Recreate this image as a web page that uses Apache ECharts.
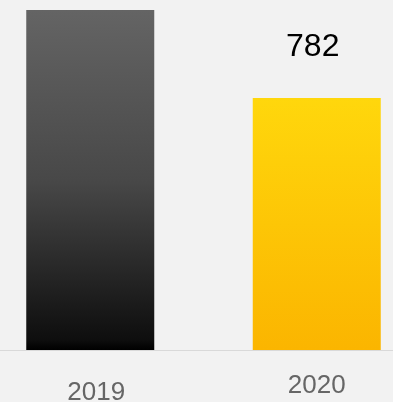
<!DOCTYPE html>
<html>
<head>
<meta charset="utf-8">
<style>
	html, body { margin: 0; padding: 0; background: #f2f2f2; }
	#chart { width: 393px; height: 402px; }
</style>
<script src="https://cdn.jsdelivr.net/npm/echarts@6/dist/echarts.min.js"></script>
</head>
<body>
<div id="chart"></div>
<script>
// 数据
var years = ['2019', '2020'];
var values = [1055, 782];

var darkBar = new echarts.graphic.LinearGradient(0, 0, 0, 1, [
	{ offset: 0, color: '#646464' },
	{ offset: 0.5, color: '#484848' },
	{ offset: 0.97, color: '#0e0e0e' },
	{ offset: 1, color: '#000000' }
]);
var yellowBar = new echarts.graphic.LinearGradient(0, 0, 0, 1, [
	{ offset: 0, color: '#ffd70c' },
	{ offset: 1, color: '#fbb500' }
]);

var myChart = echarts.init(document.getElementById('chart'));
var option = {
	backgroundColor: '#f2f2f2',
	animation: false,
	grid: {
		left: -23,
		width: 453,
		top: 10,
		bottom: 52,
		containLabel: false,
		outerBoundsMode: 'none'
	},
	xAxis: {
		type: 'category',
		z: 5,
		data: [{
			value: years[0],
			textStyle: { padding: [7, 0, 0, 12] }
		}, years[1]],
		axisLine: {
			lineStyle: { color: '#d9d9d9', width: 1 }
		},
		axisTick: { show: false },
		axisLabel: {
			margin: 23,
			fontSize: 26,
			color: '#666666',
			fontFamily: 'Arial, "Liberation Sans", sans-serif'
		}
	},
	yAxis: {
		type: 'value',
		min: 0,
		max: 'dataMax',
		show: false,
		splitLine: { show: false }
	},
	series: [{
		type: 'bar',
		barWidth: 128,
		data: [{
			value: values[0],
			itemStyle: { color: darkBar }
		}, {
			value: values[1],
			itemStyle: { color: yellowBar }
		}],
		label: {
			show: true,
			position: 'top',
			distance: 35,
			offset: [-4, 0],
			fontSize: 32,
			color: '#000000',
			fontFamily: 'Arial, "Liberation Sans", sans-serif'
		}
	}]
};
myChart.setOption(option);
</script>
</body>
</html>
